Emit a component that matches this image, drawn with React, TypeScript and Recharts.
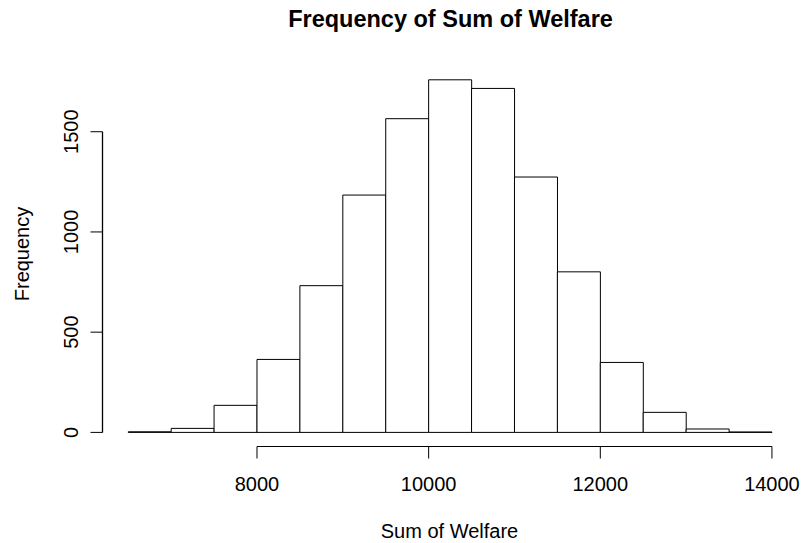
import React from 'react';
import { ComposedChart, Bar, Scatter, XAxis, YAxis, ReferenceLine } from 'recharts';

// Histogram bins (left edges) and counts
const binStarts = [6500, 7000, 7500, 8000, 8500, 9000, 9500, 10000, 10500, 11000, 11500, 12000, 12500, 13000, 13500];
const binWidth = 500;
const counts = [3, 20, 135, 364, 732, 1184, 1565, 1759, 1716, 1274, 801, 349, 100, 17, 2];
const xTicks = [8000, 10000, 12000, 14000];
const yTicks = [0, 500, 1000, 1500];
const title = 'Frequency of Sum of Welfare';
const xLabel = 'Sum of Welfare';
const yLabel = 'Frequency';

const data = binStarts.map((s, i) => ({ mid: s + binWidth / 2, count: counts[i] }));

// R-style 4% axis extension
const xMin = binStarts[0];
const xMax = binStarts[binStarts.length - 1] + binWidth;
const xPad = (xMax - xMin) * 0.04;
const xDomain: [number, number] = [xMin - xPad, xMax + xPad];
const yMax = Math.max(...counts);
const yPad = yMax * 0.04;
const yDomain: [number, number] = [-yPad, yMax + yPad];

// R draws the y-axis line only from the first to the last tick, at the plot's left edge
const yAxisLineData = [
  { mid: xDomain[0], count: yTicks[0] },
  { mid: xDomain[0], count: yTicks[yTicks.length - 1] },
];

const FONT = '"Liberation Sans", Arial, Helvetica, sans-serif';
const TICK_SIZE = 12;
const TICK_MARGIN = 2;

const YTick = (props: any) => {
  const { x, y, payload } = props;
  const bx = x - 10;
  return (
    <text x={bx} y={y} transform={`rotate(-90 ${bx} ${y})`} textAnchor="middle" fontSize={20} fill="#000" fontFamily={FONT}>
      {payload.value}
    </text>
  );
};

const XTick = (props: any) => {
  const { x, y, payload } = props;
  return (
    <text x={x} y={y + 30} textAnchor="middle" fontSize={20} fill="#000" fontFamily={FONT}>
      {payload.value}
    </text>
  );
};

const NoDot = () => <g />;

export default function App() {
  return (
    <div style={{ position: 'absolute', left: 0, top: 0, width: 801, height: 543, background: '#fff' }}>
      <ComposedChart
        width={801}
        height={543}
        data={data}
        margin={{ top: 65.7, right: 3.3, left: 0, bottom: 46.5 }}
        barCategoryGap={0}
        barGap={0}
      >
        <XAxis
          dataKey="mid"
          type="number"
          domain={xDomain}
          ticks={xTicks}
          allowDataOverflow
          axisLine={false}
          tickLine={{ stroke: '#000' }}
          tickSize={TICK_SIZE}
          tickMargin={TICK_MARGIN}
          height={50}
          tick={<XTick />}
          interval={0}
        />
        <XAxis xAxisId="edge" dataKey="mid" type="number" domain={xDomain} hide />
        <YAxis
          type="number"
          domain={yDomain}
          ticks={yTicks}
          axisLine={false}
          tickLine={{ stroke: '#000' }}
          tickSize={TICK_SIZE}
          tickMargin={TICK_MARGIN}
          width={102.5}
          tick={<YTick />}
          interval={0}
        />
        <Bar dataKey="count" fill="#fff" stroke="#000" strokeWidth={1} isAnimationActive={false} />
        <Scatter
          xAxisId="edge"
          data={yAxisLineData}
          dataKey="count"
          line={{ stroke: '#000', strokeWidth: 1.3 }}
          lineType="joint"
          shape={<NoDot />}
          legendType="none"
          isAnimationActive={false}
        />
        <ReferenceLine
          segment={[{ x: xTicks[0], y: yDomain[0] }, { x: xTicks[xTicks.length - 1], y: yDomain[0] }]}
          stroke="#000"
          strokeWidth={1}
          ifOverflow="visible"
        />
      </ComposedChart>
      <svg width={801} height={543} style={{ position: 'absolute', left: 0, top: 0, pointerEvents: 'none' }}>
        <text x={450.5} y={26.7} textAnchor="middle" fontSize={23.5} fontWeight="bold" fill="#000" fontFamily={FONT}>
          {title}
        </text>
        <text x={449.5} y={538.3} textAnchor="middle" fontSize={20} fill="#000" fontFamily={FONT}>
          {xLabel}
        </text>
        <text x={28.5} y={254} transform="rotate(-90 28.5 254)" textAnchor="middle" fontSize={20} fill="#000" fontFamily={FONT}>
          {yLabel}
        </text>
      </svg>
    </div>
  );
}
